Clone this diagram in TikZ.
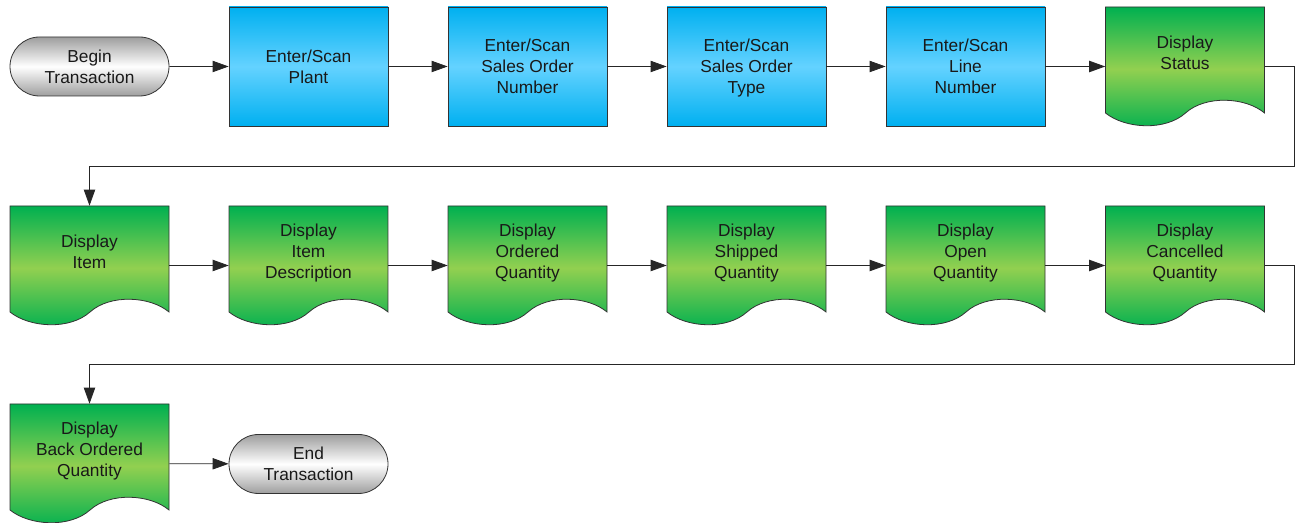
\documentclass[tikz,border=0pt]{standalone}
\usepackage{fontspec}
\setmainfont{Liberation Sans}
\usetikzlibrary{arrows.meta,shapes.misc}

\definecolor{procTop}{RGB}{0,176,240}
\definecolor{procMid}{RGB}{100,210,255}
\definecolor{docTop}{RGB}{0,176,80}
\definecolor{docMid}{RGB}{146,208,80}
\definecolor{termEdge}{RGB}{158,158,158}

% even line box, so that descenders do not move the text
\newcommand{\evenlines}[1]{\rule{0pt}{12.2pt}#1\rule[-2.7pt]{0pt}{2.7pt}}

\tikzset{
  lbl/.style={align=center, font=\fontsize{13}{15.75}\selectfont, text=black!90, inner sep=0pt},
  proc/.style={lbl, rectangle, draw=black!80, line width=0.6pt,
    minimum width=119.25pt, minimum height=89.25pt,
    top color=procTop, bottom color=procTop, middle color=procMid},
  term/.style={lbl, rounded rectangle, draw=black!80, line width=0.6pt,
    minimum width=119.25pt, minimum height=44.25pt,
    top color=termEdge, bottom color=termEdge, middle color=white},
  docarea/.style={rectangle, minimum width=119.25pt, minimum height=89.25pt, inner sep=0pt},
  flow/.style={-{Triangle[length=12pt,width=8.5pt]}, line width=0.6pt, draw=black!85},
}

% document shape: name, centre x, centre y, text
\NewDocumentCommand{\docshape}{mmmm}{%
\begin{scope}[shift={(#2-79.5,#3-59.5)}]%
\shade[top color=docTop, bottom color=docTop, middle color=docMid, draw=black!80, line width=0.6pt]
  (0,0) -- (159,0) -- (159,106)
  .. controls (140,90) and (100,88) .. (80,106)
  .. controls (60,124) and (20,122) .. (0,106) -- cycle;
\end{scope}%
\node[docarea] (#1) at (#2,#3) {};%
\node[lbl] (#1-txt) at (#2,#3-14) {\evenlines{#4}};%
}

\begin{document}
\begin{tikzpicture}[x=0.75pt, y=-0.75pt]
  \useasboundingbox (0,0) rectangle (1297,523);

  % first row
  \node[term] (begin) at (89.5,66.5) {\evenlines{Begin\\Transaction}};
  \node[proc] (plant) at (308.5,66.5) {\evenlines{Enter/Scan\\Plant}};
  \node[proc] (sonum) at (527.5,66.5) {\evenlines{Enter/Scan\\Sales Order\\Number}};
  \node[proc] (sotype) at (746.5,66.5) {\evenlines{Enter/Scan\\Sales Order\\Type}};
  \node[proc] (lineno) at (965.5,66.5) {\evenlines{Enter/Scan\\Line\\Number}};
  \docshape{status}{1185}{66.5}{Display\\Status}

  % second row
  \docshape{item}{89.5}{265.5}{Display\\Item}
  \docshape{itemdesc}{308.5}{265.5}{Display\\Item\\Description}
  \docshape{ordqty}{527.5}{265.5}{Display\\Ordered\\Quantity}
  \docshape{shipqty}{746.5}{265.5}{Display\\Shipped\\Quantity}
  \docshape{openqty}{965.5}{265.5}{Display\\Open\\Quantity}
  \docshape{cancqty}{1185}{265.5}{Display\\Cancelled\\Quantity}

  % third row
  \docshape{backqty}{89.5}{463.5}{Display\\Back Ordered\\Quantity}
  \node[term] (endtx) at (308.5,464) {\evenlines{End\\Transaction}};

  \draw[flow] (begin) -- (plant);
  \draw[flow] (plant) -- (sonum);
  \draw[flow] (sonum) -- (sotype);
  \draw[flow] (sotype) -- (lineno);
  \draw[flow] (lineno) -- (status);
  \draw[flow] (status.east) -- ++(30,0) -- ++(0,100) -| (item.north);
  \draw[flow] (item) -- (itemdesc);
  \draw[flow] (itemdesc) -- (ordqty);
  \draw[flow] (ordqty) -- (shipqty);
  \draw[flow] (shipqty) -- (openqty);
  \draw[flow] (openqty) -- (cancqty);
  \draw[flow] (cancqty.east) -- ++(30,0) -- ++(0,99) -| (backqty.north);
  \draw[flow] (backqty) -- (endtx);
\end{tikzpicture}
\end{document}
